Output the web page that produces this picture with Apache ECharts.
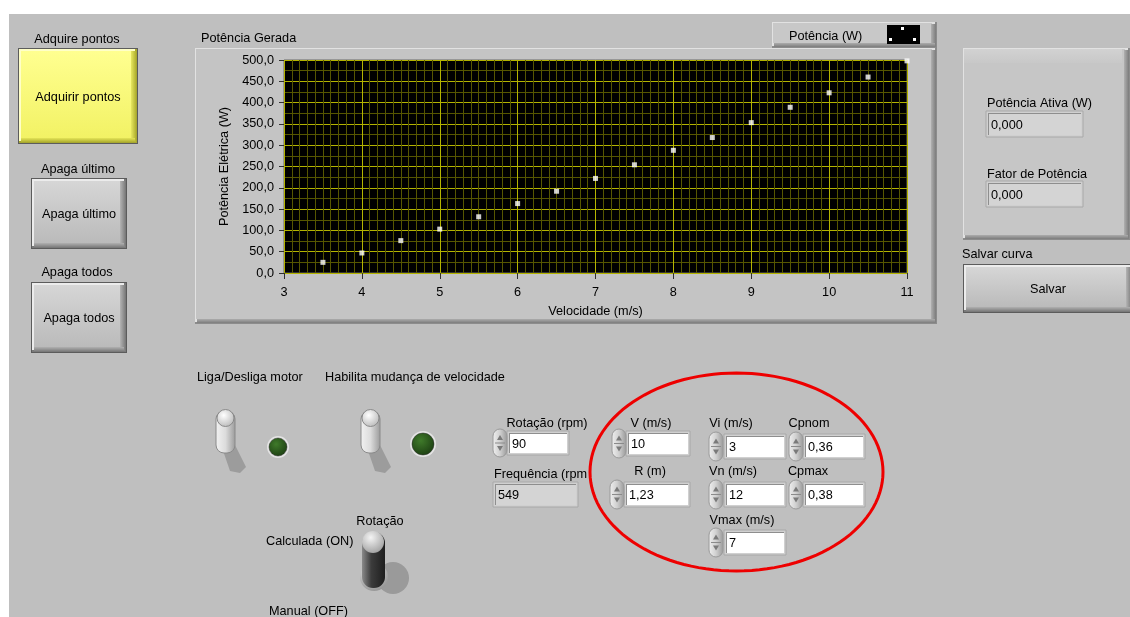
<!DOCTYPE html>
<html>
<head>
<meta charset="utf-8">
<script src="https://cdn.jsdelivr.net/npm/echarts@6/dist/echarts.min.js"></script>
<style>
html,body{margin:0;padding:0;background:#fff;}
#c{width:1130px;height:617px;}
</style>
</head>
<body>
<div id="c"></div>
<script>
// ---- data ----
const velocidade = [3.5, 4, 4.5, 5, 5.5, 6, 6.5, 7, 7.5, 8, 8.5, 9, 9.5, 10, 10.5, 11];
const potencia = [25, 47, 76, 103, 132, 163, 192, 222, 254, 288, 318, 353, 389, 423, 460, 498];
const xTicks = { min: 3, max: 11, step: 1 };
const yTicks = { min: 0, max: 500, step: 50 };

const FONT = '"Liberation Sans", Arial, sans-serif';
const FS = 12.7;
const chart = echarts.init(document.getElementById('c'), null, { renderer: 'canvas' });
const LG = echarts.graphic.LinearGradient;
const G = [];

function R(x, y, w, h, fill, o) {
  o = o || {};
  G.push({ type: 'rect', silent: true, z: o.z || 1,
    shape: { x: x, y: y, width: w, height: h, r: o.r || 0 },
    style: { fill: fill, stroke: o.stroke || null, lineWidth: o.lw || 0, opacity: o.op == null ? 1 : o.op } });
}
function C(cx, cy, r, fill, o) {
  o = o || {};
  G.push({ type: 'circle', silent: true, z: o.z || 2, shape: { cx: cx, cy: cy, r: r },
    style: { fill: fill, stroke: o.stroke || null, lineWidth: o.lw || 0 } });
}
function P(points, fill, o) {
  o = o || {};
  G.push({ type: 'polygon', silent: true, z: o.z || 2, shape: { points: points },
    style: { fill: fill, stroke: o.stroke || null, lineWidth: o.lw || 0 } });
}
function T(x, y, s, o) {
  o = o || {};
  const al = o.align || 'left';
  G.push({ type: 'text', silent: true, z: 30,
    style: { text: s, x: x, y: y + 1, fill: o.color || '#000', font: (o.size || FS) + 'px ' + FONT,
      textAlign: al, align: al, textVerticalAlign: 'middle', verticalAlign: 'middle' } });
}
function raisedPanel(x, y, w, h, face) {
  R(x, y, w, h, '#8c8c8c', { z: 0 });
  R(x, y, w - 2, h - 2, '#e2e2e2', { z: 0 });
  R(x + 1, y + 1, w - 6, h - 6, face || '#c4c4c4', { z: 0 });
  R(x + w - 6, y + 2, 5, h - 3, new LG(0, 0, 1, 0, [{ offset: 0, color: '#b0b0b0' }, { offset: 1, color: '#7c7c7c' }]), { z: 0 });
  R(x + 2, y + h - 5, w - 4, 4, new LG(0, 0, 0, 1, [{ offset: 0, color: '#acacac' }, { offset: 1, color: '#7c7c7c' }]), { z: 0 });
}
function button(x, y, w, h, label, yellow) {
  R(x, y, w, h, '#5c5c5c');
  R(x + 1, y + 1, w - 2, h - 2, yellow ? '#a8a830' : '#7a7a7a');
  R(x + 1, y + 1, w - 4, h - 4, yellow ? '#ffffc8' : '#ececec');
  R(x + 3, y + 3, w - 8, h - 8, yellow
    ? new LG(0, 0, 0, 1, [{ offset: 0, color: '#ffff90' }, { offset: 1, color: '#f2f264' }])
    : new LG(0, 0, 0, 1, [{ offset: 0, color: '#d6d6d6' }, { offset: 1, color: '#bababa' }]));
  R(x + w - 7, y + 3, 5, h - 5, yellow
    ? new LG(0, 0, 1, 0, [{ offset: 0, color: '#e8e860' }, { offset: 1, color: '#b0b030' }])
    : new LG(0, 0, 1, 0, [{ offset: 0, color: '#b4b4b4' }, { offset: 1, color: '#808080' }]));
  R(x + 3, y + h - 6, w - 6, 4, yellow
    ? new LG(0, 0, 0, 1, [{ offset: 0, color: '#e4e458' }, { offset: 1, color: '#b0b030' }])
    : new LG(0, 0, 0, 1, [{ offset: 0, color: '#b0b0b0' }, { offset: 1, color: '#808080' }]));
  T(x + w / 2, y + h / 2, label, { align: 'center' });
}
function numBox(x, y, w, h, val, white) {
  R(x, y, w, h, '#d0d0d0', { stroke: '#a8a8a8', lw: 1 });
  R(x + 2, y + 2, w - 4, h - 4, '#8e8e8e');
  R(x + 3, y + 3, w - 5, h - 5, white === false ? '#d4d4d4' : '#ffffff');
  T(x + 5, y + h / 2, val);
}
function spinner(x, y, w, h) {
  R(x, y, w, h, new LG(0, 0, 1, 0, [{ offset: 0, color: '#f0f0f0' }, { offset: 0.5, color: '#d0d0d0' }, { offset: 1, color: '#989898' }]), { r: w / 2, stroke: '#9a9a9a', lw: 1, z: 2 });
  const cx = x + w / 2, my = y + h / 2;
  P([[cx - 3, my - 3], [cx + 3, my - 3], [cx, my - 8]], '#7a7a7a', { z: 3 });
  P([[cx - 3, my + 3], [cx + 3, my + 3], [cx, my + 8]], '#7a7a7a', { z: 3 });
  R(x + 2, my - 0.5, w - 4, 1, '#8a8a8a', { z: 3 });
}
function numCtrl(sx, y, bx, bw, h, val) {
  spinner(sx, y - 2, 14, h + 4);
  numBox(bx, y, bw, h, val, true);
}
function led(cx, cy, r) {
  C(cx, cy, r + 2, '#e4e4e4');
  C(cx, cy, r, new echarts.graphic.RadialGradient(0.4, 0.35, 0.7, [{ offset: 0, color: '#3f7a2a' }, { offset: 1, color: '#1c3e12' }]), { stroke: '#2a2a2a', lw: 0.5 });
}
function toggle(x, y) {
  P([[x + 3, y + 28], [x + 16, y + 28], [x + 30, y + 56], [x + 24, y + 62], [x + 14, y + 60]], '#9c9c9c', { z: 1 });
  R(x, y, 19, 42, new LG(0, 0, 1, 0, [{ offset: 0, color: '#f2f2f2' }, { offset: 0.5, color: '#dcdcdc' }, { offset: 1, color: '#9a9a9a' }]), { r: 8, stroke: '#8a8a8a', lw: 1, z: 2 });
  C(x + 9.5, y + 7, 8.5, new echarts.graphic.RadialGradient(0.4, 0.35, 0.7, [{ offset: 0, color: '#ffffff' }, { offset: 1, color: '#b8b8b8' }]), { stroke: '#8a8a8a', lw: 1, z: 3 });
}

// page background panel
R(9, 14, 1121, 603, '#bfbfbf', { z: -1 });

// left buttons
T(77, 38, 'Adquire pontos', { align: 'center' });
button(18, 48, 120, 96, 'Adquirir pontos', true);
T(78, 168, 'Apaga último', { align: 'center' });
button(31, 178, 96, 71, 'Apaga último');
T(77, 271, 'Apaga todos', { align: 'center' });
button(31, 282, 96, 71, 'Apaga todos');

// graph frame
T(201, 37, 'Potência Gerada');
raisedPanel(195, 48, 742, 276);
raisedPanel(772, 22, 165, 26, '#c8c8c8');
T(789, 35, 'Potência (W)');
R(887, 25, 33, 19, '#000', { z: 5 });
R(901, 27, 3, 3, '#fff', { z: 6 });
R(889, 38, 3, 3, '#fff', { z: 6 });
R(913, 38, 3, 3, '#fff', { z: 6 });

// right panel
raisedPanel(963, 48, 167, 192, '#c6c6c6');
R(964, 49, 158, 14, new LG(0, 0, 0, 1, [{ offset: 0, color: '#d2d2d2' }, { offset: 1, color: '#c8c8c8' }]), { z: 0 });
T(987, 102, 'Potência Ativa (W)');
numBox(986, 111, 97, 26, '0,000', false);
T(987, 173, 'Fator de Potência');
numBox(986, 181, 97, 26, '0,000', false);
T(962, 253, 'Salvar curva');
button(963, 264, 170, 49, 'Salvar');

// lower controls
T(197, 376, 'Liga/Desliga motor');
T(325, 376, 'Habilita mudança de velocidade');
toggle(216, 411);
led(278, 447, 9);
toggle(361, 411);
led(423, 444, 11);

T(380, 520, 'Rotação', { align: 'center' });
T(266, 540, 'Calculada (ON)');
T(269, 610, 'Manual (OFF)');
C(393, 578, 16, '#9a9a9a', { z: 1 });
C(374, 577, 14, new echarts.graphic.RadialGradient(0.4, 0.3, 0.8, [{ offset: 0, color: '#eeeeee' }, { offset: 1, color: '#8c8c8c' }]), { z: 2 });
R(362, 532, 23, 56, new LG(0, 0, 1, 0, [{ offset: 0, color: '#8a8a8a' }, { offset: 0.4, color: '#3c3c3c' }, { offset: 1, color: '#1e1e1e' }]), { r: 11, z: 3 });
C(373, 542, 11, new echarts.graphic.RadialGradient(0.4, 0.3, 0.8, [{ offset: 0, color: '#f4f4f4' }, { offset: 1, color: '#9a9a9a' }]), { z: 4 });

T(547, 422, 'Rotação (rpm)', { align: 'center' });
numCtrl(493, 431, 507, 62, 24, '90');
T(494, 473, 'Frequência (rpm');
numBox(493, 482, 85, 25, '549', false);

T(651, 422, 'V (m/s)', { align: 'center' });
numCtrl(612, 431, 626, 64, 25, '10');
T(650, 470, 'R (m)', { align: 'center' });
numCtrl(610, 482, 624, 66, 25, '1,23');
T(731, 422, 'Vi (m/s)', { align: 'center' });
numCtrl(709, 434, 724, 62, 25, '3');
T(809, 422, 'Cpnom', { align: 'center' });
numCtrl(789, 434, 803, 62, 25, '0,36');
T(733, 470, 'Vn (m/s)', { align: 'center' });
numCtrl(709, 482, 724, 62, 25, '12');
T(808, 470, 'Cpmax', { align: 'center' });
numCtrl(789, 482, 803, 62, 25, '0,38');
T(742, 519, 'Vmax (m/s)', { align: 'center' });
numCtrl(709, 530, 724, 62, 25, '7');

// red ellipse outline
const ell = [];
for (let i = 0; i < 120; i++) {
  const a = i / 120 * Math.PI * 2;
  ell.push([736.5 + 146.5 * Math.cos(a), 472 + 99 * Math.sin(a)]);
}
G.push({ type: 'polygon', silent: true, z: 40, shape: { points: ell }, style: { fill: null, stroke: '#ee0000', lineWidth: 3 } });

const labelStyle = { color: '#000', fontSize: FS, fontFamily: FONT };

chart.setOption({
  animation: false,
  backgroundColor: '#ffffff',
  grid: { left: 284, top: 60, width: 623, height: 213, show: true, backgroundColor: '#000', borderColor: '#6a6a6a', borderWidth: 1, z: 5 },
  xAxis: {
    type: 'value', min: xTicks.min, max: xTicks.max, interval: xTicks.step, offset: 4, z: 5,
    name: 'Velocidade (m/s)', nameLocation: 'middle', nameGap: 28, nameTextStyle: labelStyle,
    axisLine: { show: false },
    axisTick: { show: true, length: 6, lineStyle: { color: '#303030' } },
    axisLabel: Object.assign({ margin: 9, formatter: v => String(v) }, labelStyle),
    splitLine: { show: true, lineStyle: { color: '#b4b400', width: 1 } },
    minorTick: { show: false, splitNumber: 10 },
    minorSplitLine: { show: true, lineStyle: { color: '#565600', width: 1 } }
  },
  yAxis: {
    type: 'value', min: yTicks.min, max: yTicks.max, interval: yTicks.step, z: 5,
    name: 'Potência Elétrica (W)', nameLocation: 'middle', nameGap: 45, nameTextStyle: labelStyle,
    axisLine: { show: false },
    axisTick: { show: true, length: 5, lineStyle: { color: '#303030' } },
    axisLabel: Object.assign({ margin: 10, formatter: v => v.toFixed(1).replace('.', ',') }, labelStyle),
    splitLine: { show: true, lineStyle: { color: '#b4b400', width: 1 } },
    minorTick: { show: false, splitNumber: 2 },
    minorSplitLine: { show: true, lineStyle: { color: '#565600', width: 1 } }
  },
  series: [{
    type: 'scatter', name: 'Potência (W)', z: 10,
    data: velocidade.map((v, i) => [v, potencia[i]]),
    symbol: 'rect', symbolSize: [5, 5],
    itemStyle: { color: '#ffffff' },
    clip: true
  }],
  graphic: { elements: G }
});
</script>
</body>
</html>
